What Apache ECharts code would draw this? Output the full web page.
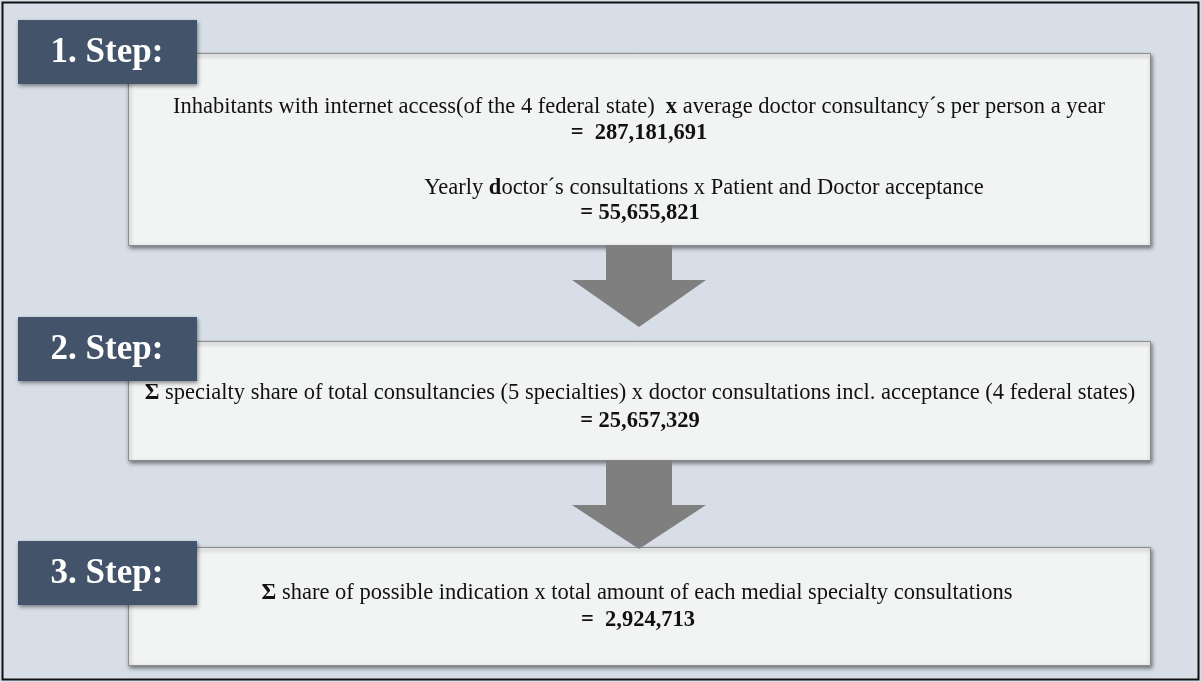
<!DOCTYPE html>
<html>
<head>
<meta charset="utf-8">
<script src="https://cdn.jsdelivr.net/npm/echarts@6/dist/echarts.min.js"></script>
<style>html,body{margin:0;padding:0;background:#fff;}#c{width:1201px;height:682px;}</style>
</head>
<body>
<div id="c"></div>
<script>
// ---- content ----
const stepLabels = ['1. Step:', '2. Step:', '3. Step:'];
const step1Formula1 = 'Inhabitants with internet access(of the 4 federal state)  {b|x} average doctor consultancy´s per person a year';
const step1Formula2 = 'Yearly {b|d}octor´s consultations x Patient and Doctor acceptance';
const step2Formula = '{b|Σ} specialty share of total consultancies (5 specialties) x doctor consultations incl. acceptance (4 federal states)';
const step3Formula = '{b|Σ} share of possible indication x total amount of each medial specialty consultations';
const resultValues = ['=  287,181,691', '= 55,655,821', '= 25,657,329', '=  2,924,713'];

// ---- layout ----
const W = 1201, H = 682;
const BG = '#d7dee7', LABEL = '#435369', BOX = '#f2f3f3', ARROW = '#7f7f7f';
const FONT = '"Liberation Serif","Times New Roman",serif';
const FS = 22.5;
const boxX = 128, boxW = 1022;
const boxes = [{y: 53, h: 192}, {y: 341, h: 119}, {y: 547, h: 118}];
const labels = [{y: 20}, {y: 317}, {y: 541}];
const arrows = [{top: 245, head: 280, tip: 327}, {top: 460, head: 505, tip: 549}];
const arrowCx = 639, shaftHalf = 33, headHalf = 67;

const chart = echarts.init(document.getElementById('c'), null, {renderer: 'canvas'});
const els = [];
els.push({type: 'rect', shape: {x: 0, y: 0, width: W, height: H}, style: {fill: BG}, z: 0});
els.push({type: 'rect', shape: {x: 2.5, y: 2.5, width: W - 5, height: H - 5}, style: {fill: 'none', stroke: '#111', lineWidth: 2}, z: 100});

boxes.forEach((b, i) => {
  els.push({type: 'rect', shape: {x: boxX + 0.5, y: b.y + 0.5, width: boxW, height: b.h},
    style: {fill: BOX, stroke: '#8c8c8c', lineWidth: 1, shadowBlur: 4, shadowOffsetX: 1, shadowOffsetY: 2, shadowColor: 'rgba(0,0,0,0.45)'}, z: 10});
});
arrows.forEach(a => {
  els.push({type: 'polygon', shape: {points: [
    [arrowCx - shaftHalf, a.top], [arrowCx + shaftHalf, a.top], [arrowCx + shaftHalf, a.head],
    [arrowCx + headHalf, a.head], [arrowCx, a.tip], [arrowCx - headHalf, a.head], [arrowCx - shaftHalf, a.head]]},
    style: {fill: ARROW}, z: 12});
});
labels.forEach((l, i) => {
  els.push({type: 'rect', shape: {x: 18, y: l.y, width: 179, height: 64},
    style: {fill: LABEL, shadowBlur: 4, shadowOffsetX: 1, shadowOffsetY: 2, shadowColor: 'rgba(0,0,0,0.45)'}, z: 20});
  els.push({type: 'text', x: 107, y: l.y + 33, style: {text: stepLabels[i], fill: '#fff', font: 'bold 35px ' + FONT, align: 'center', verticalAlign: 'middle'}, z: 21});
});

function line(txt, cx, cy, bold) {
  els.push({type: 'text', x: cx, y: cy, z: 30, style: {
    text: txt, fill: '#111', align: 'center', verticalAlign: 'middle',
    font: (bold ? 'bold ' : '') + FS + 'px ' + FONT,
    rich: {b: {fontWeight: 'bold', fontSize: FS, fontFamily: FONT, fill: '#111'}}
  }});
}
line(step1Formula1, 639, 107);
line(resultValues[0], 639, 133, true);
line(step1Formula2, 704, 188);
line(resultValues[1], 640, 213, true);
line(step2Formula, 640, 393);
line(resultValues[2], 640, 421, true);
line(step3Formula, 637, 593);
line(resultValues[3], 638, 620, true);

chart.setOption({animation: false, graphic: {elements: els}});
</script>
</body>
</html>
